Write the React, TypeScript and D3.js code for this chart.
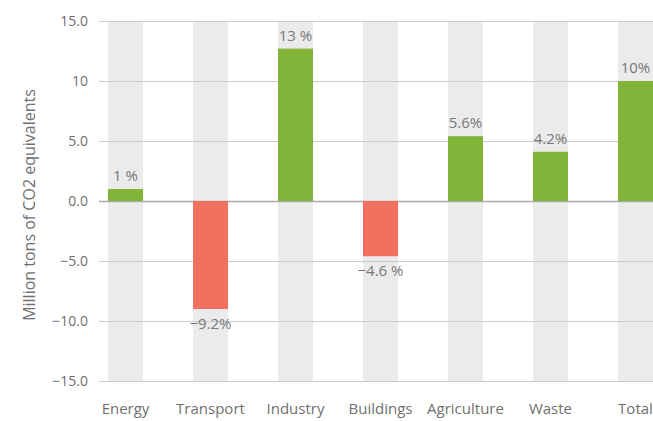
import React from "react";
import * as d3 from "d3";

const categories = ["Energy", "Transport", "Industry", "Buildings", "Agriculture", "Waste", "Total"];
const values = [1.0, -9.0, 12.7, -4.6, 5.4, 4.1, 10.0];
const labels = ["1 %", "\u22129.2%", "13 %", "\u22124.6 %", "5.6%", "4.2%", "10%"];
const yTicks = [15, 10, 5, 0, -5, -10, -15];
const yTickLabels = ["15.0", "10", "5.0", "0.0", "\u22125.0", "\u221210.0", "\u221215.0"];

const W = 653;
const H = 421;
const FONT = "'Open Sans', sans-serif";

const App = () => {
  const ref = React.useRef<SVGSVGElement>(null);

  React.useEffect(() => {
    const svg = d3.select(ref.current);
    svg.selectAll("*").remove();

    const x = d3
      .scaleBand()
      .domain(categories)
      .range([99, 662])
      .paddingInner(50 / 85)
      .paddingOuter(9 / 85);

    const y = d3.scaleLinear().domain([-15, 15]).range([381, 21]);

    // background columns
    svg
      .append("g")
      .selectAll("rect")
      .data(categories)
      .join("rect")
      .attr("x", d => x(d))
      .attr("y", y(15))
      .attr("width", x.bandwidth())
      .attr("height", y(-15) - y(15))
      .attr("fill", "#ebebeb");

    // gridlines
    svg
      .append("g")
      .selectAll("line")
      .data(yTicks)
      .join("line")
      .attr("x1", 99)
      .attr("x2", W)
      .attr("y1", d => Math.round(y(d)) + 0.5)
      .attr("y2", d => Math.round(y(d)) + 0.5)
      .attr("stroke", d => (d === 0 ? "#aaaaaa" : "#cccccc"))
      .attr("stroke-width", d => (d === 0 ? 1.5 : 1));

    // tick labels
    svg
      .append("g")
      .selectAll("text")
      .data(yTicks)
      .join("text")
      .attr("x", 88)
      .attr("y", d => y(d) + 5)
      .attr("text-anchor", "end")
      .style("font-family", FONT)
      .style("font-size", "14px")
      .style("fill", "#707070")
      .text((d, i) => yTickLabels[i]);

    // bars
    svg
      .append("g")
      .selectAll("rect")
      .data(values)
      .join("rect")
      .attr("x", (d, i) => x(categories[i]))
      .attr("y", d => y(Math.max(0, d)))
      .attr("width", x.bandwidth())
      .attr("height", d => Math.abs(y(d) - y(0)))
      .attr("fill", d => (d >= 0 ? "#82b43a" : "#f2705e"));

    // value labels
    svg
      .append("g")
      .selectAll("text")
      .data(values)
      .join("text")
      .attr("x", (d, i) => x(categories[i]) + x.bandwidth() / 2)
      .attr("y", d => (d >= 0 ? y(d) - 8 : y(d) + 20))
      .attr("text-anchor", "middle")
      .style("font-family", FONT)
      .style("font-size", "15px")
      .style("fill", "#787878")
      .text((d, i) => labels[i]);

    // category labels
    svg
      .append("g")
      .selectAll("text")
      .data(categories)
      .join("text")
      .attr("x", d => x(d) + x.bandwidth() / 2)
      .attr("y", 414)
      .attr("text-anchor", "middle")
      .style("font-family", FONT)
      .style("font-size", "15px")
      .style("fill", "#707070")
      .text(d => d);

    // y title
    svg
      .append("text")
      .attr("transform", `translate(35, ${y(0) + 4}) rotate(-90)`)
      .attr("text-anchor", "middle")
      .style("font-family", FONT)
      .style("font-size", "16px")
      .style("fill", "#707070")
      .text("Million tons of CO2 equivalents");
  }, []);

  return (
    <svg
      ref={ref}
      width={W}
      height={H}
      style={{ position: "absolute", left: 0, top: 0, background: "#fff" }}
    />
  );
};

export default App;
